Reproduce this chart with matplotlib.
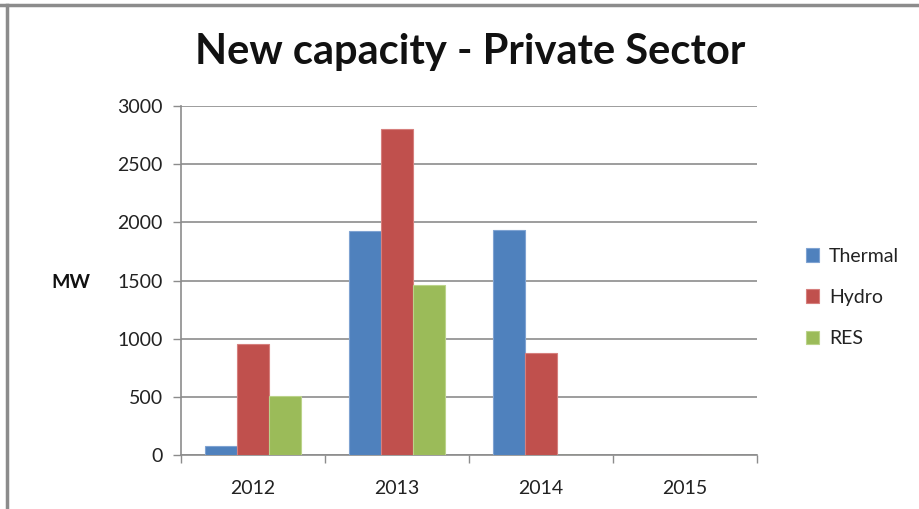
import matplotlib.pyplot as plt
import numpy as np
from matplotlib.lines import Line2D

years = ['2012', '2013', '2014', '2015']
series = ['Thermal', 'Hydro', 'RES']
thermal = [80, 1925, 1935, 0]
hydro = [950, 2800, 880, 0]
res = [505, 1460, 0, 0]
colors = ['#4F81BD', '#C0504D', '#9BBB59']
edges = ['#7FA3D2', '#D67F7D', '#BBD38A']

plt.rcParams['font.family'] = ['Lato', 'DejaVu Sans']

fig = plt.figure(figsize=(9.19, 5.09), dpi=100)
ax = fig.add_axes([181 / 919, 1 - 455 / 509, 576 / 919, 349 / 509])

x = np.arange(len(years))
w = 0.222
for i, (vals, name) in enumerate(zip([thermal, hydro, res], series)):
    ax.bar(x + (i - 1) * w, vals, width=w, color=colors[i],
           edgecolor=edges[i], linewidth=0.8, label=name, zorder=3)

ax.set_xlim(-0.5, 3.5)
ax.set_ylim(0, 3000)
ax.set_yticks(range(0, 3001, 500))
ax.yaxis.grid(True, color='#8c8c8c', linewidth=1.2, zorder=0)
ax.set_xticks(x)
ax.set_xticklabels(years)
ax.set_xticks(np.arange(-0.5, 4, 1), minor=True)
ax.tick_params(axis='x', which='major', length=0, pad=18, labelsize=14, colors='#222222')
ax.tick_params(axis='x', which='minor', length=6, color='#8c8c8c', width=1)
ax.tick_params(axis='y', length=6, color='#8c8c8c', width=1, pad=7, labelsize=14, colors='#222222')
for s in ['top', 'right']:
    ax.spines[s].set_visible(False)
for s in ['left', 'bottom']:
    ax.spines[s].set_color('#8c8c8c')
    ax.spines[s].set_linewidth(1.2)

fig.text(71 / 919, 1 - 283 / 509, 'MW', ha='center', va='center',
         fontsize=14, fontweight='bold', color='#111111')
fig.text(470 / 919, 1 - 52 / 509, 'New capacity - Private Sector', ha='center',
         va='center', fontsize=30, fontweight='bold', color='#111111')

leg = fig.legend(loc='upper left', bbox_to_anchor=(788 / 919, 1 - 230 / 509),
                 frameon=False, fontsize=14, labelspacing=1.25,
                 handlelength=0.7, handleheight=0.7, handletextpad=0.5)
for t in leg.get_texts():
    t.set_color('#222222')

# outer chart border (cropped)
fig.add_artist(Line2D([0, 1], [1 - 5 / 509, 1 - 5 / 509], color='#8c8c8c', linewidth=2.5))
fig.add_artist(Line2D([7 / 919, 7 / 919], [0, 1 - 5 / 509], color='#8c8c8c', linewidth=2.5))

fig.savefig('out.png', dpi=100)
